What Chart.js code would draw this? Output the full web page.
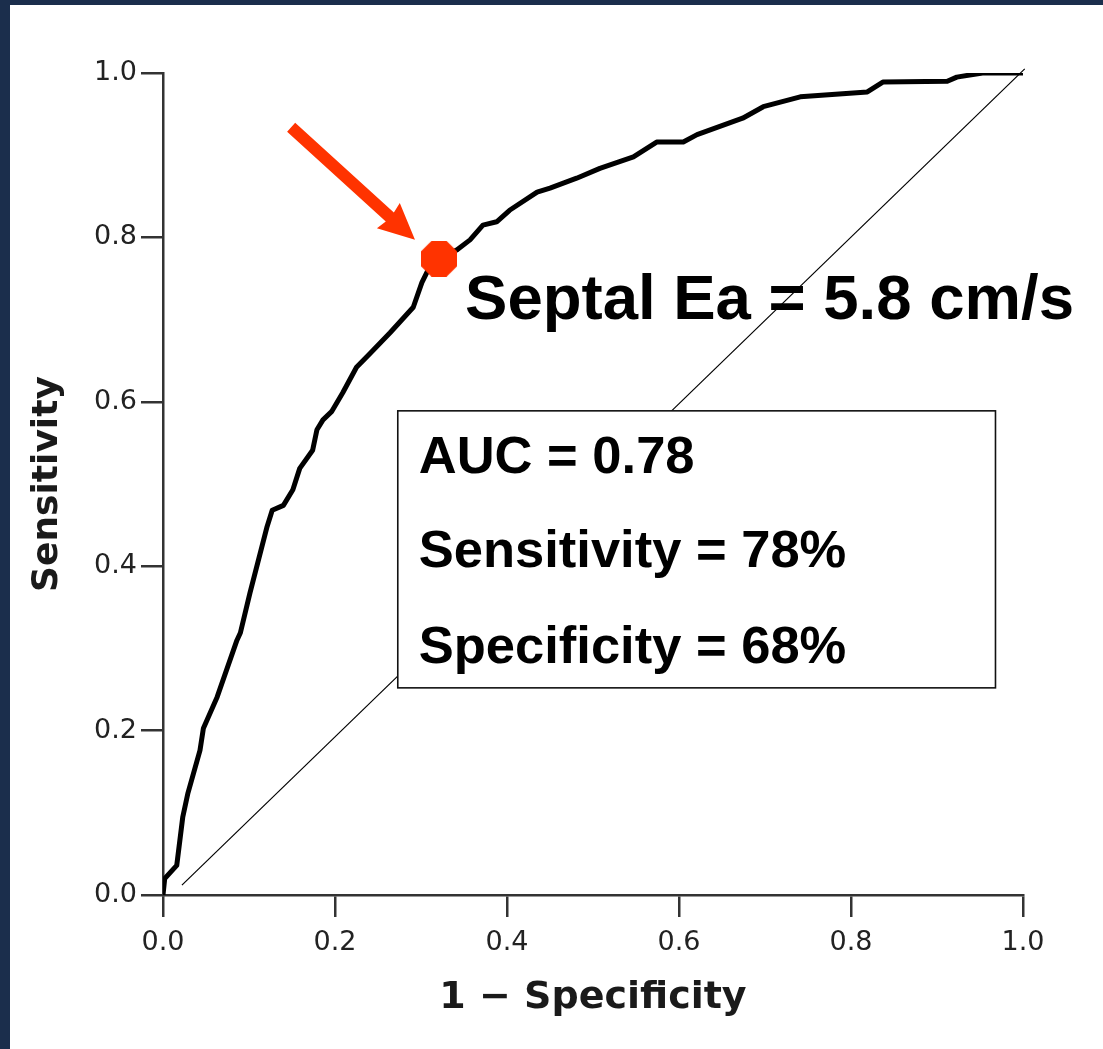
<!DOCTYPE html>
<html>
<head>
<meta charset="utf-8">
<script src="https://cdn.jsdelivr.net/npm/chart.js@4.4.1/dist/chart.umd.min.js"></script>
<style>
  html, body { margin: 0; padding: 0; background: #1b2e4c; }
  #panel { position: absolute; left: 10px; top: 5px; width: 1093px; height: 1044px; background: #ffffff; }
  #wrap { position: absolute; left: 0; top: 0; width: 1103px; height: 1049px; }
</style>
</head>
<body>
<div id="panel"></div>
<div id="wrap"><canvas id="c" width="1103" height="1049"></canvas></div>
<script>
// ---- data ----
const fprValues = [0.000, 0.002, 0.016, 0.023, 0.029, 0.043, 0.047, 0.063, 0.086, 0.090, 0.101, 0.121, 0.127, 0.140, 0.151, 0.159, 0.174, 0.179, 0.186, 0.196, 0.209, 0.225, 0.241, 0.264, 0.291, 0.301, 0.308, 0.321, 0.342, 0.357, 0.372, 0.388, 0.403, 0.435, 0.450, 0.481, 0.508, 0.547, 0.574, 0.605, 0.621, 0.674, 0.698, 0.741, 0.819, 0.837, 0.912, 0.923, 0.953, 1.000];
const tprValues = [0.000, 0.020, 0.036, 0.095, 0.124, 0.176, 0.203, 0.241, 0.310, 0.319, 0.367, 0.448, 0.468, 0.474, 0.493, 0.519, 0.541, 0.566, 0.578, 0.588, 0.611, 0.642, 0.659, 0.684, 0.715, 0.745, 0.760, 0.774, 0.785, 0.797, 0.815, 0.819, 0.833, 0.855, 0.860, 0.872, 0.884, 0.898, 0.916, 0.916, 0.925, 0.945, 0.959, 0.971, 0.977, 0.989, 0.990, 0.995, 1.000, 1.000];
const diagonalX = [0.022, 1.002];
const diagonalY = [0.012, 1.005];
const cutoffX = [0.321];
const cutoffY = [0.774];
const tickLabels = ['0.0', '0.2', '0.4', '0.6', '0.8', '1.0'];
const xTitle = '1 \u2212 Specificity';
const yTitle = 'Sensitivity';
const cutoffLabel = 'Septal Ea = 5.8 cm/s';
const statsLines = ['AUC = 0.78', 'Sensitivity = 78%', 'Specificity = 68%'];
// annotation anchors in data space
const statsBoxX = [0.273, 0.968];
const statsBoxY = [0.252, 0.589];
const arrowFrom = [0.149, 0.934];
const arrowTo = [0.293, 0.797];

const RED = '#ff3300';

function toPoints(xs, ys) { return xs.map((x, i) => ({ x: x, y: ys[i] })); }

// octagon marker image
function octagon(size, color) {
  const c = document.createElement('canvas');
  c.width = size; c.height = size;
  const g = c.getContext('2d');
  const R = size / 2 / Math.cos(Math.PI / 8);
  g.fillStyle = color;
  g.beginPath();
  for (let k = 0; k < 8; k++) {
    const a = Math.PI / 8 + k * Math.PI / 4;
    const px = size / 2 + R * Math.cos(a), py = size / 2 + R * Math.sin(a);
    if (k === 0) g.moveTo(px, py); else g.lineTo(px, py);
  }
  g.closePath(); g.fill();
  return c;
}

const annotations = {
  id: 'annotations',
  afterDatasetsDraw(chart) {
    const { ctx, scales: { x, y } } = chart;
    ctx.save();
    // stats box
    const bx0 = x.getPixelForValue(statsBoxX[0]), bx1 = x.getPixelForValue(statsBoxX[1]);
    const by0 = y.getPixelForValue(statsBoxY[1]), by1 = y.getPixelForValue(statsBoxY[0]);
    ctx.fillStyle = '#ffffff';
    ctx.fillRect(bx0, by0, bx1 - bx0, by1 - by0);
    ctx.strokeStyle = '#111';
    ctx.lineWidth = 1.6;
    ctx.strokeRect(bx0, by0, bx1 - bx0, by1 - by0);
    ctx.fillStyle = '#000';
    ctx.font = 'bold 52.5px "Liberation Sans", Arial, sans-serif';
    ctx.textAlign = 'left';
    ctx.textBaseline = 'alphabetic';
    const offs = [62, 156, 252];
    statsLines.forEach((t, i) => ctx.fillText(t, bx0 + 21, by0 + offs[i]));

    // arrow
    const tx = x.getPixelForValue(arrowFrom[0]), ty = y.getPixelForValue(arrowFrom[1]);
    const hx = x.getPixelForValue(arrowTo[0]), hy = y.getPixelForValue(arrowTo[1]);
    const dx = hx - tx, dy = hy - ty, L = Math.hypot(dx, dy);
    const ux = dx / L, uy = dy / L, nx = -uy, ny = ux;
    const headLen = 36, headHalf = 17, shaftHalf = 6;
    const bxp = hx - ux * headLen, byp = hy - uy * headLen;
    ctx.fillStyle = RED;
    ctx.beginPath();
    ctx.moveTo(tx + nx * shaftHalf, ty + ny * shaftHalf);
    ctx.lineTo(bxp + nx * shaftHalf + ux * 2, byp + ny * shaftHalf + uy * 2);
    ctx.lineTo(bxp + nx * headHalf, byp + ny * headHalf);
    ctx.lineTo(hx, hy);
    ctx.lineTo(bxp - nx * headHalf, byp - ny * headHalf);
    ctx.lineTo(bxp - nx * shaftHalf + ux * 2, byp - ny * shaftHalf + uy * 2);
    ctx.lineTo(tx - nx * shaftHalf, ty - ny * shaftHalf);
    ctx.closePath();
    ctx.fill();

    // cutoff label
    const mx = x.getPixelForValue(cutoffX[0]), my = y.getPixelForValue(cutoffY[0]);
    ctx.fillStyle = '#000';
    ctx.font = 'bold 63.5px "Liberation Sans", Arial, sans-serif';
    ctx.fillText(cutoffLabel, mx + 26, my + 60);
    ctx.restore();
  }
};

const tickFont = { family: '"DejaVu Sans", sans-serif', size: 27, weight: 'normal' };
const yTitleFont = { family: '"DejaVu Sans", sans-serif', size: 36, weight: 'bold' };
const xTitleFont = { family: '"DejaVu Sans", sans-serif', size: 38, weight: 'bold' };

new Chart(document.getElementById('c'), {
  type: 'scatter',
  data: {
    datasets: [
      {
        data: toPoints(cutoffX, cutoffY),
        pointStyle: octagon(36, RED),
        pointRadius: 18,
        showLine: false,
        order: 0
      },
      {
        data: toPoints(fprValues, tprValues),
        showLine: true,
        borderColor: '#000',
        borderWidth: 5,
        borderJoinStyle: 'round',
        borderCapStyle: 'round',
        pointRadius: 0,
        tension: 0,
        order: 1
      },
      {
        data: toPoints(diagonalX, diagonalY),
        showLine: true,
        borderColor: '#000',
        borderWidth: 1.2,
        pointRadius: 0,
        tension: 0,
        clip: false,
        order: 2
      }
    ]
  },
  options: {
    responsive: false,
    animation: false,
    devicePixelRatio: 1,
    layout: { padding: { left: 0, top: 73, right: 80, bottom: 0 } },
    plugins: { legend: { display: false }, tooltip: { enabled: false } },
    scales: {
      x: {
        type: 'linear', min: 0, max: 1,
        afterFit(s) { s.height = 154; },
        ticks: {
          stepSize: 0.2, color: '#222', font: tickFont, padding: 10, maxRotation: 0,
          callback: (v) => tickLabels[Math.round(v * 5)]
        },
        grid: { drawOnChartArea: false, drawTicks: true, tickLength: 22, color: '#333', lineWidth: 2.5 },
        border: { display: true, color: '#333', width: 2.5 },
        title: { display: true, text: xTitle, color: '#1a1a1a', font: xTitleFont, padding: { top: 0, bottom: 28 } }
      },
      y: {
        type: 'linear', min: 0, max: 1,
        afterFit(s) { s.width = 163; },
        ticks: {
          stepSize: 0.2, color: '#222', font: tickFont, padding: 4,
          callback: (v) => tickLabels[Math.round(v * 5)]
        },
        grid: { drawOnChartArea: false, drawTicks: true, tickLength: 22, color: '#333', lineWidth: 2.5 },
        border: { display: true, color: '#333', width: 2.5 },
        title: { display: true, text: yTitle, color: '#1a1a1a', font: yTitleFont, padding: { top: 26, bottom: 0 } }
      }
    }
  },
  plugins: [annotations]
});
</script>
</body>
</html>
